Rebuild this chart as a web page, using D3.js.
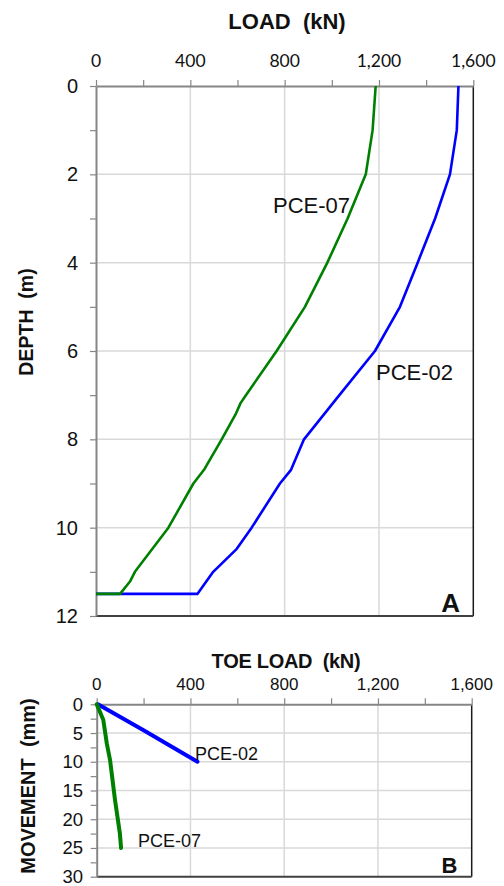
<!DOCTYPE html>
<html>
<head>
<meta charset="utf-8">
<script src="https://cdn.jsdelivr.net/npm/d3@7"></script>
<style>
  html, body { margin: 0; padding: 0; background: #fff; }
  svg text { white-space: pre; }
</style>
</head>
<body>
<svg id="chart" width="504" height="886"></svg>
<script>
// ---------- DATA ----------
// Panel A: load distribution with depth
const pce07Depth = [0, 1, 2, 3, 4, 5, 6, 7.03, 7.18, 7.41, 8, 8.69, 9, 10, 11, 11.22, 11.5, 11.5];
const pce07Load  = [1186, 1173, 1144, 1067, 981, 886, 766, 632, 613, 594, 533, 458, 413, 307, 165, 144, 102, 0];
const pce02Depth = [0, 1, 2, 3, 4, 5, 6, 7, 8, 8.69, 9, 10, 10.48, 11, 11.5, 11.5];
const pce02Load  = [1537, 1530, 1501, 1438, 1364, 1289, 1183, 1032, 882, 827, 780, 660, 597, 497, 430, 0];
// Panel B: toe load vs movement
const pce02ToeLoad = [5, 200, 430];
const pce02ToeMove = [0, 4.5, 10];
const pce07ToeLoad = [0, 28, 43, 57, 78, 99, 104];
const pce07ToeMove = [0, 2.7, 6.8, 9.7, 16.6, 22.5, 25];
// Axis ticks
const loadTicks = [0, 400, 800, 1200, 1600];
const loadMinorTicks = [0, 200, 400, 600, 800, 1000, 1200, 1400, 1600];
const depthTicks = [0, 2, 4, 6, 8, 10, 12];
const depthMinorTicks = [0,1,2,3,4,5,6,7,8,9,10,11,12];
const moveTicks = [0, 5, 10, 15, 20, 25, 30];
const moveMinorTicks = [0,2.5,5,7.5,10,12.5,15,17.5,20,22.5,25,27.5,30];

// ---------- DRAW ----------
const svg = d3.select("#chart");
const GREEN = "#008000", BLUE = "#0000ff", GRID = "#d9d9d9", AXIS = "#868686";
const fmt = d3.format(",");

function panel(cfg) {
  const g = svg.append("g");
  const x = d3.scaleLinear().domain([0, 1600]).range([cfg.left, cfg.right]);
  const y = d3.scaleLinear().domain(cfg.yDomain).range([cfg.top, cfg.bottom]);

  // grid
  g.selectAll(".vg").data(loadTicks.slice(1, -1)).enter().append("line")
    .attr("x1", d => x(d)).attr("x2", d => x(d))
    .attr("y1", cfg.top).attr("y2", cfg.bottom)
    .attr("stroke", GRID).attr("stroke-width", 1.5);
  g.selectAll(".hg").data(cfg.yTicks.slice(1, -1)).enter().append("line")
    .attr("y1", d => y(d)).attr("y2", d => y(d))
    .attr("x1", cfg.left).attr("x2", cfg.right)
    .attr("stroke", GRID).attr("stroke-width", 1.5);

  // frame (right & bottom dark)
  g.append("line").attr("x1", cfg.right).attr("x2", cfg.right)
    .attr("y1", cfg.top).attr("y2", cfg.bottom).attr("stroke", "#1a1a1a").attr("stroke-width", 1.5);
  g.append("line").attr("x1", cfg.left).attr("x2", cfg.right)
    .attr("y1", cfg.bottom).attr("y2", cfg.bottom).attr("stroke", "#404040").attr("stroke-width", 2);

  // top axis
  const ax = g.append("g").attr("transform", `translate(0,${cfg.top})`)
    .call(d3.axisTop(x).tickValues(loadMinorTicks).tickSize(6).tickSizeOuter(0).tickFormat(""));
  ax.select(".domain").attr("stroke", AXIS).attr("stroke-width", 2);
  ax.selectAll(".tick line").attr("stroke", AXIS).attr("stroke-width", 1.2);
  // left axis
  const ay = g.append("g").attr("transform", `translate(${cfg.left},0)`)
    .call(d3.axisLeft(y).tickValues(cfg.yMinor).tickSize(6).tickSizeOuter(0).tickFormat(""));
  ay.select(".domain").attr("stroke", AXIS).attr("stroke-width", 2);
  ay.selectAll(".tick line").attr("stroke", AXIS).attr("stroke-width", 1.2);

  // tick labels
  g.selectAll(".xl").data(loadTicks).enter().append("text")
    .attr("x", d => x(d)).attr("y", cfg.xLabelY)
    .attr("text-anchor", "middle")
    .attr("font-family", cfg.xFont).attr("font-size", cfg.xFontSize)
    .attr("fill", "#111").text(d => fmt(d));
  g.selectAll(".yl").data(cfg.yTicks).enter().append("text")
    .attr("x", cfg.yLabelX).attr("y", d => y(d) + cfg.yShift)
    .attr("text-anchor", "end")
    .attr("font-family", "Liberation Sans, Arial, sans-serif").attr("font-size", cfg.yFontSize)
    .attr("fill", "#111").text(d => d);

  return { g, x, y };
}

// Panel A
const A = panel({
  left: 96, right: 473.3, top: 86, bottom: 616,
  yDomain: [0, 12], yTicks: depthTicks, yMinor: depthMinorTicks,
  xLabelY: 66.5, xFont: "Lato, sans-serif", xFontSize: 17.5,
  yLabelX: 78, yFontSize: 20, yShift: 7
});
const lineA = d3.line().x(d => A.x(d[0])).y(d => A.y(d[1]));
A.g.append("path").datum(d3.zip(pce02Load, pce02Depth)).attr("d", lineA)
  .attr("fill", "none").attr("stroke", BLUE).attr("stroke-width", 2.6).attr("stroke-linejoin", "round");
A.g.append("path").datum(d3.zip(pce07Load, pce07Depth)).attr("d", lineA)
  .attr("fill", "none").attr("stroke", GREEN).attr("stroke-width", 2.6).attr("stroke-linejoin", "round");

svg.append("text").attr("x", 287).attr("y", 29).attr("text-anchor", "middle")
  .attr("font-family", "Liberation Sans, Arial, sans-serif").attr("font-weight", "bold")
  .attr("font-size", 22).attr("fill", "#111").text("LOAD  (kN)");
svg.append("text").attr("transform", "translate(33,322) rotate(-90)").attr("text-anchor", "middle")
  .attr("font-family", "Liberation Sans, Arial, sans-serif").attr("font-weight", "bold")
  .attr("font-size", 19.5).attr("fill", "#111").text("DEPTH  (m)");
svg.append("text").attr("x", 273).attr("y", 213)
  .attr("font-family", "Liberation Sans, Arial, sans-serif").attr("font-size", 22)
  .attr("fill", "#111").text("PCE-07");
svg.append("text").attr("x", 376).attr("y", 380)
  .attr("font-family", "Liberation Sans, Arial, sans-serif").attr("font-size", 22)
  .attr("fill", "#111").text("PCE-02");
svg.append("text").attr("x", 460).attr("y", 611.5).attr("text-anchor", "end")
  .attr("font-family", "Liberation Sans, Arial, sans-serif").attr("font-weight", "bold")
  .attr("font-size", 26).attr("fill", "#111").text("A");

// Panel B
const B = panel({
  left: 96.7, right: 471.7, top: 704.3, bottom: 876.7,
  yDomain: [0, 30], yTicks: moveTicks, yMinor: moveMinorTicks,
  xLabelY: 690, xFont: "Liberation Sans, Arial, sans-serif", xFontSize: 17,
  yLabelX: 83, yFontSize: 18.5, yShift: 6.5
});
const lineB = d3.line().x(d => B.x(d[0])).y(d => B.y(d[1]));
B.g.append("path").datum(d3.zip(pce02ToeLoad, pce02ToeMove)).attr("d", lineB)
  .attr("fill", "none").attr("stroke", BLUE).attr("stroke-width", 4).attr("stroke-linecap", "round").attr("stroke-linejoin", "round");
B.g.append("path").datum(d3.zip(pce07ToeLoad, pce07ToeMove)).attr("d", lineB)
  .attr("fill", "none").attr("stroke", GREEN).attr("stroke-width", 4).attr("stroke-linecap", "round").attr("stroke-linejoin", "round");

svg.append("text").attr("x", 286).attr("y", 668).attr("text-anchor", "middle")
  .attr("font-family", "Liberation Sans, Arial, sans-serif").attr("font-weight", "bold")
  .attr("font-size", 20).attr("letter-spacing", -0.3).attr("fill", "#111").text("TOE LOAD  (kN)");
svg.append("text").attr("transform", "translate(35,786) rotate(-90)").attr("text-anchor", "middle")
  .attr("font-family", "Liberation Sans, Arial, sans-serif").attr("font-weight", "bold")
  .attr("font-size", 20).attr("fill", "#111").text("MOVEMENT  (mm)");
svg.append("text").attr("x", 195).attr("y", 760)
  .attr("font-family", "Liberation Sans, Arial, sans-serif").attr("font-size", 18)
  .attr("fill", "#111").text("PCE-02");
svg.append("text").attr("x", 138).attr("y", 846.5)
  .attr("font-family", "Liberation Sans, Arial, sans-serif").attr("font-size", 18)
  .attr("fill", "#111").text("PCE-07");
svg.append("text").attr("x", 457.5).attr("y", 873).attr("text-anchor", "end")
  .attr("font-family", "Liberation Sans, Arial, sans-serif").attr("font-weight", "bold")
  .attr("font-size", 22).attr("fill", "#111").text("B");
</script>
</body>
</html>
